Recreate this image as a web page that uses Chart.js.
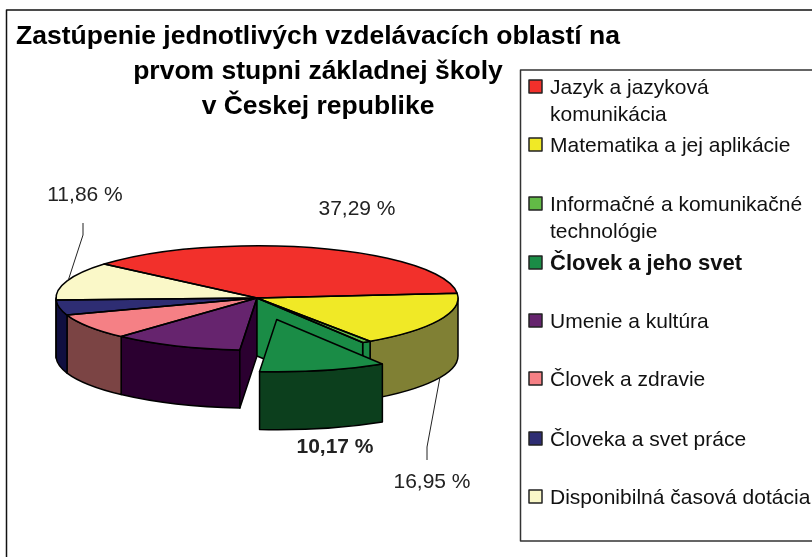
<!DOCTYPE html>
<html>
<head>
<meta charset="utf-8">
<title>Zastúpenie vzdelávacích oblastí</title>
<script src="https://cdn.jsdelivr.net/npm/chart.js@4"></script>
<style>
    html, body { margin: 0; padding: 0; background: #fff; }
    #wrap { position: relative; width: 812px; height: 557px; overflow: hidden; }
</style>
</head>
<body>
<div id="wrap"><canvas id="pieChart" width="812" height="557"></canvas></div>
<script>
// Chart data
const categories = ['Jazyk a jazyková komunikácia', 'Matematika a jej aplikácie', 'Informačné a komunikačné technológie', 'Človek a jeho svet', 'Umenie a kultúra', 'Človek a zdravie', 'Človeka a svet práce', 'Disponibilná časová dotácia'];
const legendLines = [['Jazyk a jazyková', 'komunikácia'], ['Matematika a jej aplikácie'], ['Informačné a komunikačné', 'technológie'], ['Človek a jeho svet'], ['Umenie a kultúra'], ['Človek a zdravie'], ['Človeka a svet práce'], ['Disponibilná časová dotácia']];
const shares = [37.29, 16.95, 0.7, 10.17, 10.45, 7.9, 4.68, 11.86];
const titleLines = ['Zastúpenie jednotlivých vzdelávacích oblastí na', 'prvom stupni základnej školy', 'v Českej republike'];

// Colours
const topColors = ['#F2302B', '#F0E926', '#62BA46', '#1A8C46', '#66246E', '#F58085', '#2E2D73', '#FAF8C8'];
const wallColors = ['#7A1815', '#808034', '#1A8C46', '#0C3F1D', '#2B0030', '#7B4444', '#100F40', '#7D7C64'];
const lineColor = '#000';
const textColor = '#222';

// Fake 3D geometry of the pie (px)
const pieX = 257;
const pieY = 298;
const pieRadius = 201;
const squash = 0.26;
const depth = 58;
const explodedIndex = 3;
const explodeBy = 85;

// Value labels: which slice, where, and optional leader line
const valueLabels = [
    { index: 7, x: 85, y: 195, leader: [[83, 223], [83, 235], [68, 281]] },
    { index: 0, x: 357, y: 209 },
    { index: 3, x: 335, y: 447, bold: true },
    { index: 1, x: 432, y: 482, leader: [[427, 460], [427, 447], [440, 377]] }
];

// Legend layout
const legendTops = [80, 138, 197, 256, 314, 372, 432, 490];

function wedgePath(ctx, cx, cy, start, end) {
    ctx.beginPath();
    ctx.moveTo(cx, cy);
    ctx.ellipse(cx, cy, pieRadius, pieRadius * squash, 0, start, end);
    ctx.closePath();
}

function drawWall(ctx, cx, cy, start, end, color) {
    const from = Math.max(start, 0);
    const to = Math.min(end, Math.PI);
    if (to <= from) return;
    ctx.beginPath();
    ctx.ellipse(cx, cy, pieRadius, pieRadius * squash, 0, from, to);
    ctx.ellipse(cx, cy + depth, pieRadius, pieRadius * squash, 0, to, from, true);
    ctx.closePath();
    ctx.fillStyle = color;
    ctx.fill();
    ctx.stroke();
}

// Inner cut face that shows in the hole left by the exploded slice
function drawFace(ctx, angle, color) {
    const rimX = pieX + Math.cos(angle) * pieRadius;
    const rimY = pieY + Math.sin(angle) * pieRadius * squash;
    ctx.beginPath();
    ctx.moveTo(pieX, pieY);
    ctx.lineTo(rimX, rimY);
    ctx.lineTo(rimX, rimY + depth);
    ctx.lineTo(pieX, pieY + depth);
    ctx.closePath();
    ctx.fillStyle = color;
    ctx.fill();
    ctx.stroke();
}

function drawLegend(ctx) {
    ctx.strokeStyle = '#333';
    ctx.lineWidth = 1.5;
    ctx.beginPath();
    ctx.moveTo(830, 70);
    ctx.lineTo(520.5, 70);
    ctx.lineTo(520.5, 541);
    ctx.lineTo(830, 541);
    ctx.stroke();

    ctx.textAlign = 'left';
    ctx.textBaseline = 'alphabetic';
    legendLines.forEach((lines, i) => {
        ctx.fillStyle = topColors[i];
        ctx.strokeStyle = '#222';
        ctx.fillRect(529, legendTops[i], 13, 13);
        ctx.strokeRect(529, legendTops[i], 13, 13);
        ctx.fillStyle = '#111';
        ctx.font = i === explodedIndex ? 'bold 22px "Liberation Sans"' : '21px "Liberation Sans"';
        lines.forEach((line, n) => {
            ctx.fillText(line, 550, legendTops[i] + 14 + n * 26.5);
        });
    });
}

function drawValueLabels(ctx) {
    ctx.textAlign = 'center';
    ctx.textBaseline = 'middle';
    valueLabels.forEach(item => {
        if (item.leader) {
            ctx.strokeStyle = '#222';
            ctx.lineWidth = 1;
            ctx.beginPath();
            item.leader.forEach((p, n) => n ? ctx.lineTo(p[0], p[1]) : ctx.moveTo(p[0], p[1]));
            ctx.stroke();
        }
        ctx.fillStyle = textColor;
        ctx.font = (item.bold ? 'bold ' : '') + '21px "Liberation Sans"';
        ctx.fillText(shares[item.index].toFixed(2).replace('.', ',') + ' %', item.x, item.y);
    });
}

// Flattens the library's arcs and adds the walls around them
const pie3d = {
    id: 'pie3d',
    beforeDatasetsDraw(chart) {
        const ctx = chart.ctx;
        const arcs = chart.getDatasetMeta(0).data;
        ctx.save();
        ctx.strokeStyle = lineColor;
        ctx.lineWidth = 1.5;
        ctx.lineJoin = 'round';
        arcs.forEach((arc, i) => {
            if (i !== explodedIndex) {
                drawWall(ctx, pieX, pieY, arc.startAngle, arc.endAngle, wallColors[i]);
            }
        });
        ctx.restore();

        ctx.save();
        ctx.translate(pieX, pieY);
        ctx.scale(1, squash);
        ctx.translate(-arcs[0].x, -arcs[0].y);
    },
    afterDatasetsDraw(chart) {
        const ctx = chart.ctx;
        const arcs = chart.getDatasetMeta(0).data;
        ctx.restore();

        ctx.save();
        ctx.strokeStyle = lineColor;
        ctx.lineWidth = 1.5;
        ctx.lineJoin = 'round';

        const out = arcs[explodedIndex];
        drawFace(ctx, arcs[explodedIndex + 1].startAngle, wallColors[explodedIndex + 1]);
        drawFace(ctx, arcs[explodedIndex - 1].endAngle, topColors[explodedIndex]);

        // Outlines of the slices that stay in place
        arcs.forEach((arc, i) => {
            if (i === explodedIndex) return;
            wedgePath(ctx, pieX, pieY, arc.startAngle, arc.endAngle);
            ctx.stroke();
        });

        // The exploded slice sits on top of everything else
        const mid = (out.startAngle + out.endAngle) / 2;
        const outX = pieX + Math.cos(mid) * explodeBy;
        const outY = pieY + Math.sin(mid) * explodeBy * squash;
        drawWall(ctx, outX, outY, out.startAngle, out.endAngle, wallColors[explodedIndex]);
        ctx.save();
        ctx.translate(outX, outY);
        ctx.scale(1, squash);
        ctx.translate(-out.x, -out.y);
        out.draw(ctx);
        ctx.restore();
        ctx.strokeStyle = lineColor;
        wedgePath(ctx, outX, outY, out.startAngle, out.endAngle);
        ctx.stroke();

        // Outer frame
        ctx.strokeStyle = '#111';
        ctx.lineWidth = 1.5;
        ctx.beginPath();
        ctx.moveTo(6.5, 557);
        ctx.lineTo(6.5, 10);
        ctx.lineTo(830, 10);
        ctx.stroke();

        drawValueLabels(ctx);
        drawLegend(ctx);
        ctx.restore();
    }
};

document.addEventListener('DOMContentLoaded', function () {
    new Chart(document.getElementById('pieChart'), {
        type: 'pie',
        data: {
            labels: categories,
            datasets: [{
                data: shares,
                backgroundColor: topColors,
                borderWidth: 0,
                hoverOffset: 0,
                radius: pieRadius,
                clip: false
            }]
        },
        options: {
            responsive: false,
            animation: false,
            rotation: -49.5,
            // right padding keeps the title centred over the pie side
            layout: { padding: { right: 176 } },
            events: [],
            plugins: {
                legend: { display: false },
                tooltip: { enabled: false },
                title: {
                    display: true,
                    text: titleLines,
                    color: '#000',
                    font: { family: '"Liberation Sans"', size: 26.5, weight: 'bold', lineHeight: 1.32 },
                    padding: { top: 19, bottom: 0 }
                }
            }
        },
        plugins: [pie3d]
    });
});
</script>
</body>
</html>
